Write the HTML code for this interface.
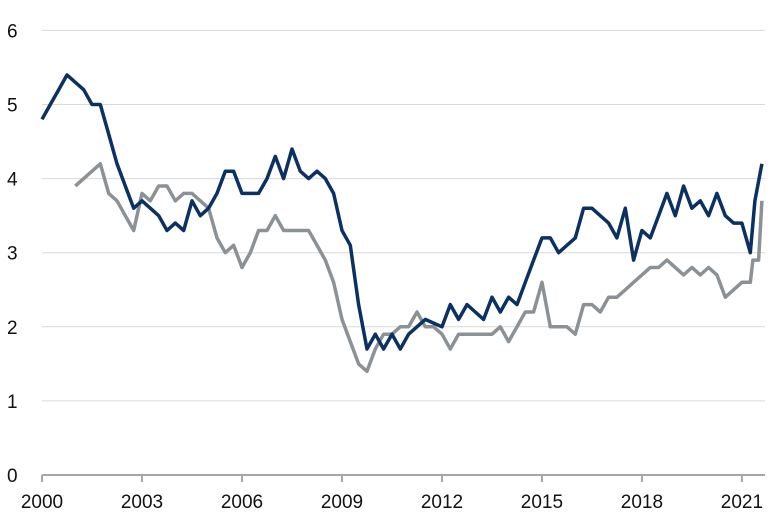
<!DOCTYPE html>
<html><head><meta charset="utf-8"><style>
html,body{margin:0;padding:0;background:#fff;}
svg{display:block;font-family:"Liberation Sans",sans-serif;}
</style></head><body>
<svg id="chart" width="778" height="518"></svg>
<script>
const xTickLabels = ["2000","2003","2006","2009","2012","2015","2018","2021"];
const yTickLabels = ["0","1","2","3","4","5","6"];
const blueValues = [4.8,5.0,5.2,5.4,5.3,5.2,5.0,5.0,4.6,4.2,3.9,3.6,3.7,3.6,3.5,3.3,3.4,3.3,3.7,3.5,3.6,3.8,4.1,4.1,3.8,3.8,3.8,4.0,4.3,4.0,4.4,4.1,4.0,4.1,4.0,3.8,3.3,3.1,2.3,1.7,1.9,1.7,1.9,1.7,1.9,2.0,2.1,2.05,2.0,2.3,2.1,2.3,2.2,2.1,2.4,2.2,2.4,2.3,2.6,2.9,3.2,3.2,3.0,3.1,3.2,3.6,3.6,3.5,3.4,3.2,3.6,2.9,3.3,3.2,3.5,3.8,3.5,3.9,3.6,3.7,3.5,3.8,3.5,3.4,3.4,3.0,3.7,4.2];
const blueDates = [];
for (let i = 0; i < 86; i++) blueDates.push(2000 + i / 4);
blueDates.push(2021.39, 2021.6);
const grayValues = [3.9,4.0,4.1,4.2,3.8,3.7,3.5,3.3,3.8,3.7,3.9,3.9,3.7,3.8,3.8,3.7,3.6,3.2,3.0,3.1,2.8,3.0,3.3,3.3,3.5,3.3,3.3,3.3,3.3,3.1,2.9,2.6,2.1,1.8,1.5,1.4,1.7,1.9,1.9,2.0,2.0,2.2,2.0,2.0,1.9,1.7,1.9,1.9,1.9,1.9,1.9,2.0,1.8,2.0,2.2,2.2,2.6,2.0,2.0,2.0,1.9,2.3,2.3,2.2,2.4,2.4,2.5,2.6,2.7,2.8,2.8,2.9,2.8,2.7,2.8,2.7,2.8,2.7,2.4,2.5,2.6,2.6,2.9,2.9,3.7];
const grayDates = [];
for (let i = 4; i < 86; i++) grayDates.push(2000 + i / 4);
grayDates.push(2021.33, 2021.5, 2021.6);

const NS = "http://www.w3.org/2000/svg";
const svg = document.getElementById("chart");
const X0 = 42, PXY = 33.33, Y0 = 475, PXV = 74.1;
function xs(t){ return X0 + (t - 2000) * PXY; }
function ys(v){ return Y0 - v * PXV; }
function mk(tag, attrs){ const e = document.createElementNS(NS, tag); for (const k in attrs) e.setAttribute(k, attrs[k]); svg.appendChild(e); return e; }

yTickLabels.forEach(function(lab){
  const v = +lab;
  if (v > 0) {
    const g = mk("line", {x1: X0, x2: 765, y1: ys(v), y2: ys(v), stroke: "#d9d9d9", "stroke-width": 1});
    
    
  }
  const t = mk("text", {x: 7, y: ys(v) + 7, "font-size": 19, fill: "#111"});
  t.textContent = lab;
  
  
});
const ax = mk("line", {x1: X0, x2: 765, y1: Y0, y2: Y0, stroke: "#a6a6a6", "stroke-width": 2});


xTickLabels.forEach(function(lab){
  const x = xs(+lab);
  const tk = mk("line", {x1: x, x2: x, y1: Y0, y2: Y0 + 7, stroke: "#a6a6a6", "stroke-width": 2});
  
  
  const t = mk("text", {x: x, y: 508, "font-size": 19, fill: "#111", "text-anchor": "middle"});
  t.textContent = lab;
  
  
});
function series(dates, vals, color, name){
  const d = vals.map(function(v, i){ return (i ? "L" : "M") + xs(dates[i]).toFixed(1) + " " + ys(v).toFixed(1); }).join(" ");
  const p = mk("path", {d: d, fill: "none", stroke: color, "stroke-width": 3.5, "stroke-linejoin": "round"});
  
  
}
series(grayDates, grayValues, "#8c9196", "gray-series-line");
series(blueDates, blueValues, "#0b3163", "blue-series-line");
</script>
</body></html>
